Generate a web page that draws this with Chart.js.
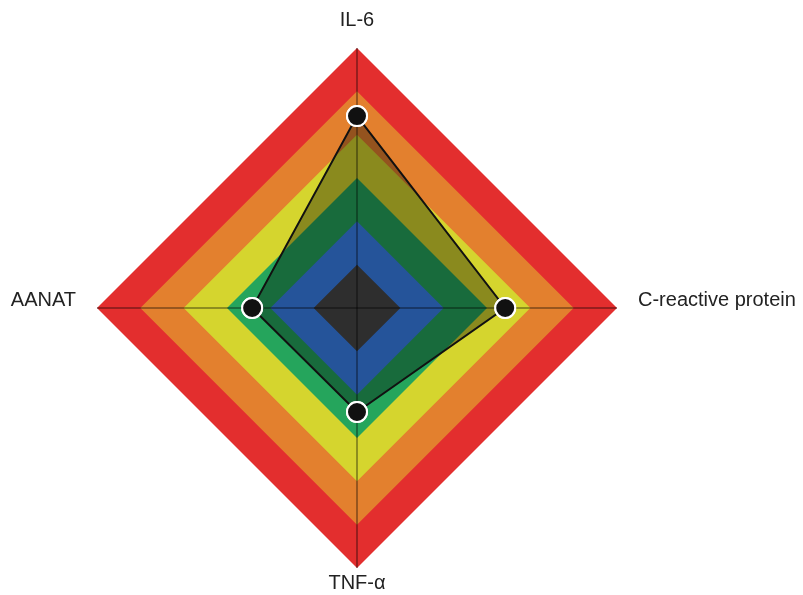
<!DOCTYPE html>
<html>
<head>
<meta charset="utf-8">
<script src="https://cdn.jsdelivr.net/npm/chart.js@4.4.0/dist/chart.umd.min.js"></script>
<style>
  html, body { margin: 0; padding: 0; background: #fff; overflow: hidden; width: 803px; height: 595px; position: relative; }
  #radar { position: absolute; left: -63px; top: 1px; }
</style>
</head>
<body>
<canvas id="radar" width="880" height="601"></canvas>
<script>
var markers = ["IL-6", "C-reactive protein", "TNF-\u03b1", "AANAT"];
var patientLevels = [4.43, 3.42, 2.4, 2.42];
var bandLevels = [1, 2, 3, 4, 5, 6];
var bandColors = ["#2e2e2e", "#25549a", "#25a55c", "#d5d52e", "#e3802e", "#e32e2e"];
var labelGaps = [16, 21, 3, 21];

var canvas = document.getElementById("radar");

// the bands, innermost first; blue and dark sit above the patient polygon
var datasets = bandLevels.map(function (lvl, i) {
  return {
    label: "level " + lvl,
    data: markers.map(function () { return lvl; }),
    backgroundColor: bandColors[i],
    borderColor: "transparent",
    borderWidth: 0,
    pointRadius: 0,
    fill: true,
    order: i < 2 ? i : i + 1,
  };
});

datasets.push({
  label: "patient",
  data: patientLevels,
  order: 2,
  fill: true,
  backgroundColor: "rgba(0,0,0,0.35)",
  borderColor: "#111",
  borderWidth: 2,
  pointRadius: 10,
  pointBorderWidth: 2,
  pointBorderColor: "#fff",
  pointBackgroundColor: "#111",
});

// side labels sit a little above the axis: give them an empty second line
var axisLabels = markers.map(function (m, i) {
  return i % 2 ? [m, ""] : m;
});

// axis lines are drawn above the bands, so put the markers back on top
var pointsOnTop = {
  id: "pointsOnTop",
  afterDraw: function (chart) {
    var meta = chart.getDatasetMeta(datasets.length - 1);
    meta.data.forEach(function (pt) {
      pt.draw(chart.ctx, chart.chartArea);
    });
  },
};

var radar = new Chart(canvas, {
  type: "radar",
  data: { labels: axisLabels, datasets: datasets },
  options: {
    responsive: false,
    animation: false,
    events: [],
    plugins: { legend: { display: false }, tooltip: { enabled: false } },
    scales: {
      r: {
        min: 0,
        max: 6,
        ticks: { display: false, z: 1 },
        grid: { display: false, z: 1 },
        angleLines: { color: "rgba(0,0,0,0.45)", lineWidth: 1.5 },
        pointLabels: {
          color: "#222",
          font: function (ctx) {
            return {
              family: "'Liberation Sans', Arial, sans-serif",
              size: 20,
              lineHeight: ctx.index % 2 ? 0.75 : 1.2,
            };
          },
          padding: function (ctx) { return labelGaps[ctx.index]; },
        },
      },
    },
  },
  plugins: [pointsOnTop],
});
</script>
</body>
</html>
